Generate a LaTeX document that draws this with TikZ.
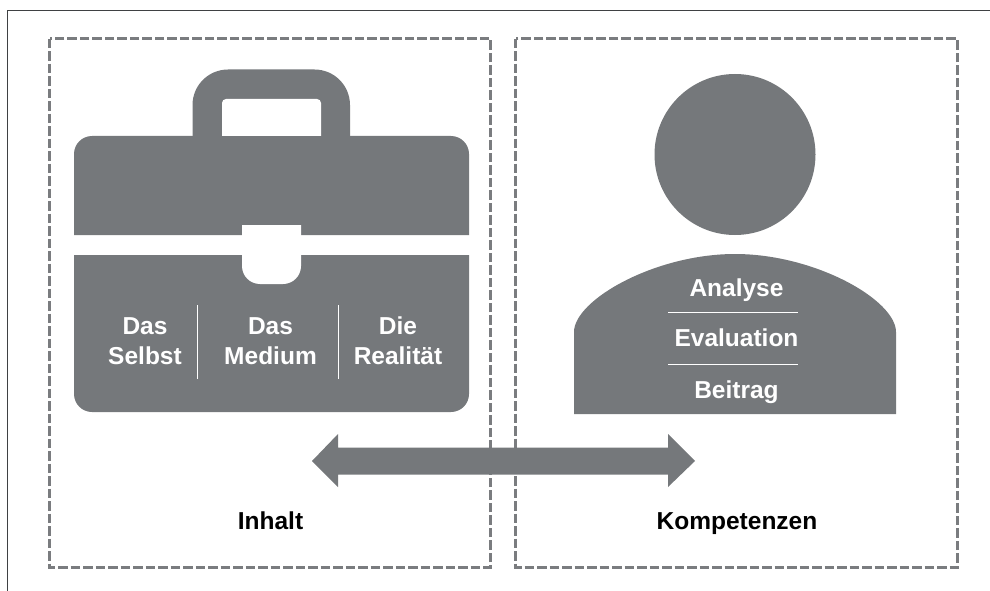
\documentclass[tikz,border=0pt]{standalone}
\usepackage{fontspec}
\setmainfont{Liberation Sans}
\definecolor{iconGrey}{HTML}{75787B}
\definecolor{dashGrey}{HTML}{7A7C7F}
\definecolor{frameGrey}{HTML}{3F4143}
\tikzset{
  dashbox/.style={draw=dashGrey,line width=3pt,dash pattern=on 9.5pt off 3pt},
  solidicon/.style={fill=iconGrey,draw=none},
  cutout/.style={fill=white,draw=none},
  thinrule/.style={draw=white,line width=0.9pt},
  innerlabel/.style={text=white,font=\fontsize{24.5}{30}\selectfont\bfseries,align=center,inner sep=0pt,anchor=base},
  caption/.style={text=black,font=\fontsize{24.5}{30}\selectfont\bfseries,inner sep=0pt,anchor=base}
}
\begin{document}
\begin{tikzpicture}[x=1pt,y=-1pt]
\useasboundingbox (0,0) rectangle (990,591);
% frame
\draw[frameGrey,line width=1.2pt] (7.5,591) -- (7.5,10.5) -- (990,10.5);
% dashed boxes
\draw[dashbox] (49.5,38.7) rectangle (490.6,567.5);
\draw[dashbox] (515.8,38.7) rectangle (957,567.5);
% briefcase
\fill[solidicon] (192.5,137) [rounded corners=35.5pt] -- (192.5,69.5) -- (350,69.5) [sharp corners] -- (350,137) -- cycle;
\fill[solidicon] (74,235) [rounded corners=18pt] -- (74,136) -- (469,136) [sharp corners] -- (469,235) -- cycle;
\fill[solidicon] (74,255) [rounded corners=18pt] -- (74,412) -- (469,412) [sharp corners] -- (469,255) -- cycle;
\fill[cutout] (222,136) [rounded corners=4pt] -- (222,99) -- (321,99) [sharp corners] -- (321,136) -- cycle;
\fill[cutout] (242,225) [rounded corners=18pt] -- (242,284) -- (301,284) [sharp corners] -- (301,225) -- cycle;
\draw[thinrule] (197.5,305) -- (197.5,379);
\draw[thinrule] (338,305) -- (338,379);
\node[innerlabel] (das1) at (145,334) {Das};
\node[innerlabel] (selbst) at (145,364) {Selbst};
\node[innerlabel] (das2) at (270.5,334) {Das};
\node[innerlabel] (medium) at (270.5,364) {Medium};
\node[innerlabel] (die) at (398,334) {Die};
\node[innerlabel] (realitaet) at (398,364) {Realität};
% person
\fill[solidicon] (735,154.5) circle[radius=80.5];
\fill[solidicon] (574,414) -- (574,332) .. controls (574,300) and (655,254) .. (735,254) .. controls (815,254) and (896,300) .. (896,332) -- (896,414) -- cycle;
\draw[thinrule] (668,312) -- (797.5,312);
\draw[thinrule] (668,364) -- (797.5,364);
\node[innerlabel] (analyse) at (736.5,296) {Analyse};
\node[innerlabel] (evaluation) at (736.5,346) {Evaluation};
\node[innerlabel] (beitrag) at (736.5,398) {Beitrag};
% double arrow
\fill[solidicon] (312,461) -- (338,434) -- (338,447.5) -- (668,447.5) -- (668,434) -- (695,461) -- (668,487) -- (668,474.5) -- (338,474.5) -- (338,487) -- cycle;
% captions
\node[caption] (inhalt) at (270.5,529) {Inhalt};
\node[caption] (kompetenzen) at (737,529) {Kompetenzen};
\end{tikzpicture}
\end{document}
